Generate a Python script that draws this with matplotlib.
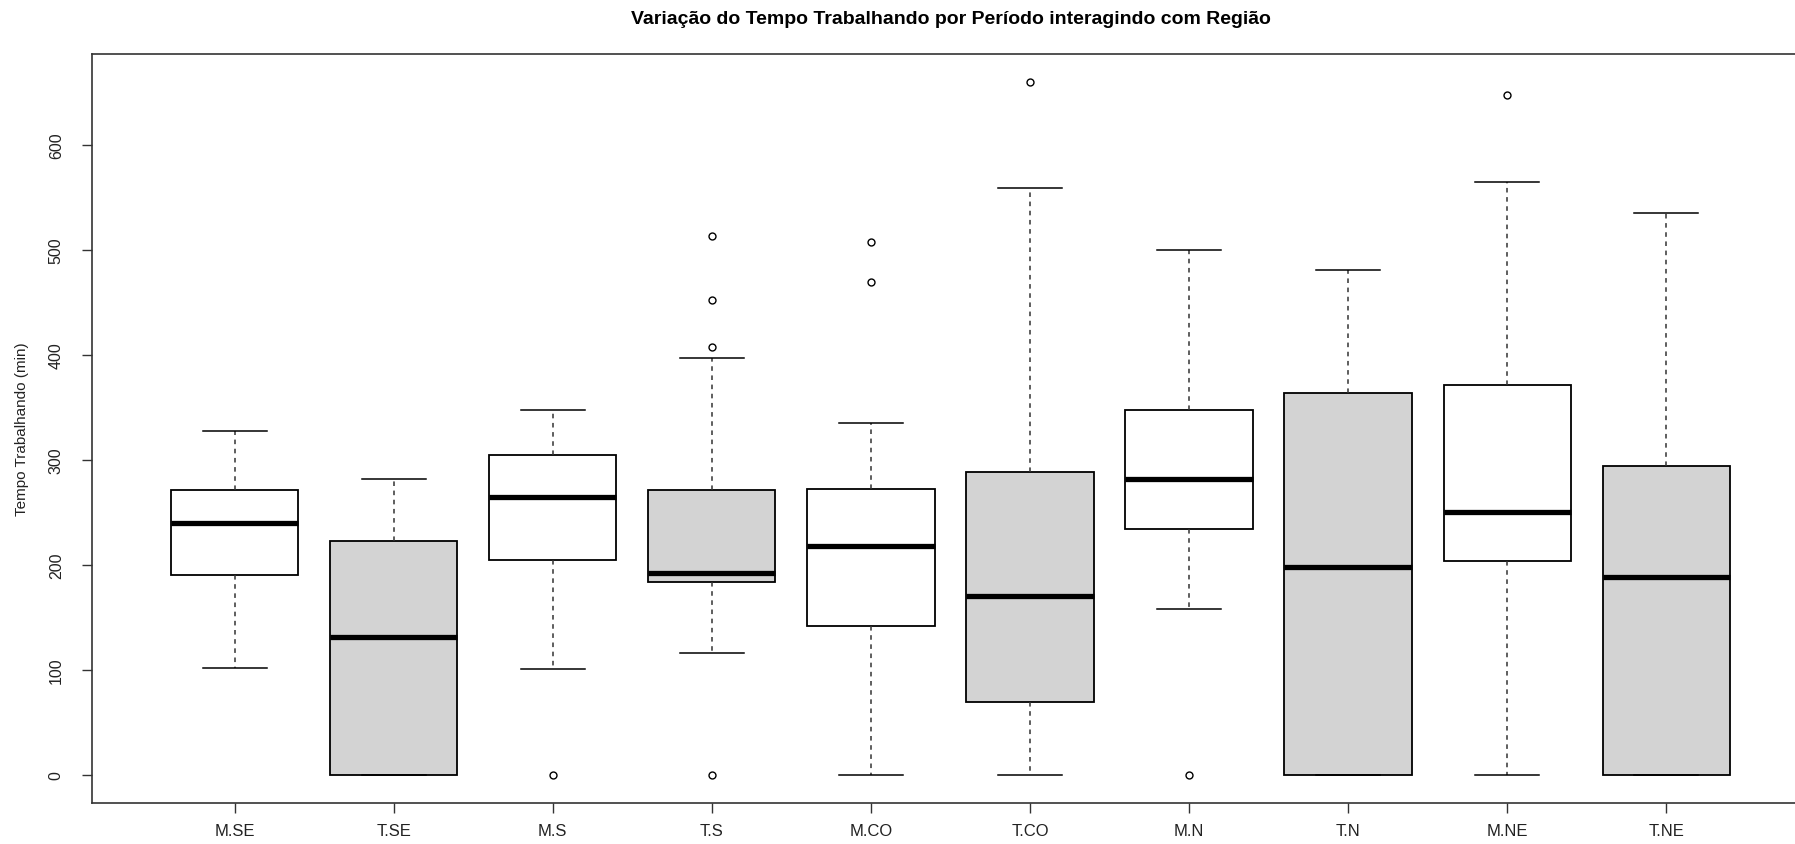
import matplotlib
matplotlib.use("Agg")
import matplotlib.pyplot as plt

plt.rcParams['font.family'] = ['Liberation Sans', 'DejaVu Sans']

# groups (Periodo.Regiao)
labels = ["M.SE", "T.SE", "M.S", "T.S", "M.CO", "T.CO", "M.N", "T.N", "M.NE", "T.NE"]
whislo = [102, 0, 101, 116, 0, 0, 158, 0, 0, 0]
q1 = [190, 0, 205, 184, 142, 69, 234, 0, 204, 0]
med = [240, 131, 265, 192, 218, 170, 282, 198, 250, 188]
q3 = [271, 223, 305, 271, 272, 288, 347, 364, 371, 294]
whishi = [327, 282, 347, 397, 335, 559, 500, 481, 564, 535]
fliers = [[], [], [0], [0, 407, 452, 513], [469, 507], [660], [0], [], [647], []]
box_colors = ["white", "lightgray"] * 5

stats = []
for i in range(len(labels)):
    stats.append(dict(label=labels[i], whislo=whislo[i], q1=q1[i], med=med[i],
                      q3=q3[i], whishi=whishi[i], fliers=fliers[i]))

fig = plt.figure(figsize=(17.95, 8.45), dpi=100)
ax = fig.add_axes([0.051, 0.049, 0.957, 0.886])

bp = ax.bxp(stats, widths=0.8, patch_artist=True,
            boxprops=dict(linewidth=1.3, edgecolor="black"),
            medianprops=dict(color="black", linewidth=3.8, solid_capstyle="butt"),
            whiskerprops=dict(linestyle=(0, (3, 3)), linewidth=1.1, color="#333333"),
            capprops=dict(linewidth=1.1, color="black"),
            capwidths=0.4,
            flierprops=dict(marker="o", markersize=5, markerfacecolor="none",
                            markeredgecolor="black", markeredgewidth=1.0))
for patch, c in zip(bp["boxes"], box_colors):
    patch.set_facecolor(c)

ax.set_xlim(0.1, 10.9)
ax.set_ylim(-26.4, 686.4)
ax.set_yticks(range(0, 601, 100))
ax.set_yticklabels([str(v) for v in range(0, 601, 100)], rotation=90, va="center")
ax.tick_params(axis="both", length=7, width=1, color="#333333", labelcolor="#222222")
ax.tick_params(axis="x", labelsize=12, pad=8)
ax.tick_params(axis="y", labelsize=11.5, pad=13)
for s in ax.spines.values():
    s.set_linewidth(1.2)
    s.set_color("#333333")

ax.set_ylabel("Tempo Trabalhando (min)", fontsize=11, color="#222222", labelpad=14)
# R centres the title over the plot region, not the figure
ax.set_title("Variação do Tempo Trabalhando por Período interagindo com Região",
             fontsize=14, fontweight="bold", pad=22)

fig.savefig("out.png", dpi=100)
